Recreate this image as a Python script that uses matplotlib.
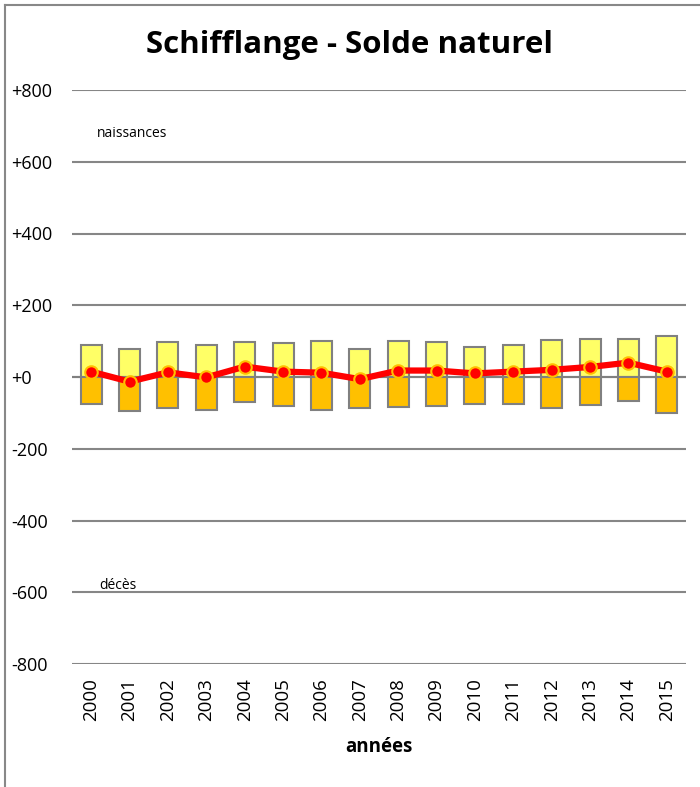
import matplotlib
matplotlib.use("Agg")
import matplotlib.pyplot as plt
from matplotlib.lines import Line2D

years = [str(y) for y in range(2000, 2016)]
naissances = [89, 77, 97, 90, 98, 96, 100, 79, 100, 98, 84, 89, 103, 106, 105, 114]
deces = [-75, -94, -86, -92, -70, -81, -92, -87, -83, -81, -75, -75, -86, -78, -66, -101]
solde = [15, -13, 13, -1, 29, 15, 12, -6, 18, 18, 10, 15, 20, 28, 40, 15]
yticks = [800, 600, 400, 200, 0, -200, -400, -600, -800]
ytick_labels = ["+800", "+600", "+400", "+200", "+0", "-200", "-400", "-600", "-800"]

plt.rcParams['font.family'] = ['Open Sans', 'DejaVu Sans']

fig = plt.figure(figsize=(7, 7.87), dpi=100)
ax = fig.add_axes([72/700, 1-664/787, (686-72)/700, (664-90)/787])

x = list(range(len(years)))
ax.bar(x, naissances, width=0.55, color="#FFFF66", edgecolor="#808080", linewidth=1.5, zorder=3)
ax.bar(x, deces, width=0.55, color="#FFC000", edgecolor="#808080", linewidth=1.5, zorder=3)
ax.axhline(0, color="#808080", linewidth=1.5, zorder=2)
ax.plot(x, solde, color="#FF0000", linewidth=4.5, marker="o", markersize=9,
        markerfacecolor="#FF0000", markeredgecolor="#FFC000", markeredgewidth=1.5, zorder=4)

ax.set_ylim(-800, 800)
ax.set_xlim(-0.5, len(years) - 0.5)
ax.set_yticks(yticks)
ax.set_yticklabels(ytick_labels, fontsize=13, ha="left")
ax.tick_params(axis="y", length=0, pad=44)
ax.set_xticks(x)
ax.set_xticklabels(years, rotation=90, fontsize=13.5)
ax.tick_params(axis="x", length=0, pad=10)
ax.yaxis.grid(True, color="#868686", linewidth=1.5, zorder=0)
for s in ax.spines.values():
    s.set_visible(False)

ax.text(0.15, 680, "naissances", fontsize=10, va="center")
ax.text(0.2, -580, "décès", fontsize=10, va="center")
ax.set_xlabel("années", fontsize=13.5, fontweight="bold", labelpad=12)
fig.text(0.5, 1-45/787, "Schifflange - Solde naturel", ha="center", va="center",
         fontsize=22.5, fontweight="bold")

fig.add_artist(Line2D([5/700, 5/700], [0, 1-5/787], color="#888888", linewidth=1.5))
fig.add_artist(Line2D([5/700, 1], [1-5/787, 1-5/787], color="#888888", linewidth=1.5))

fig.savefig("out.png", dpi=100)
